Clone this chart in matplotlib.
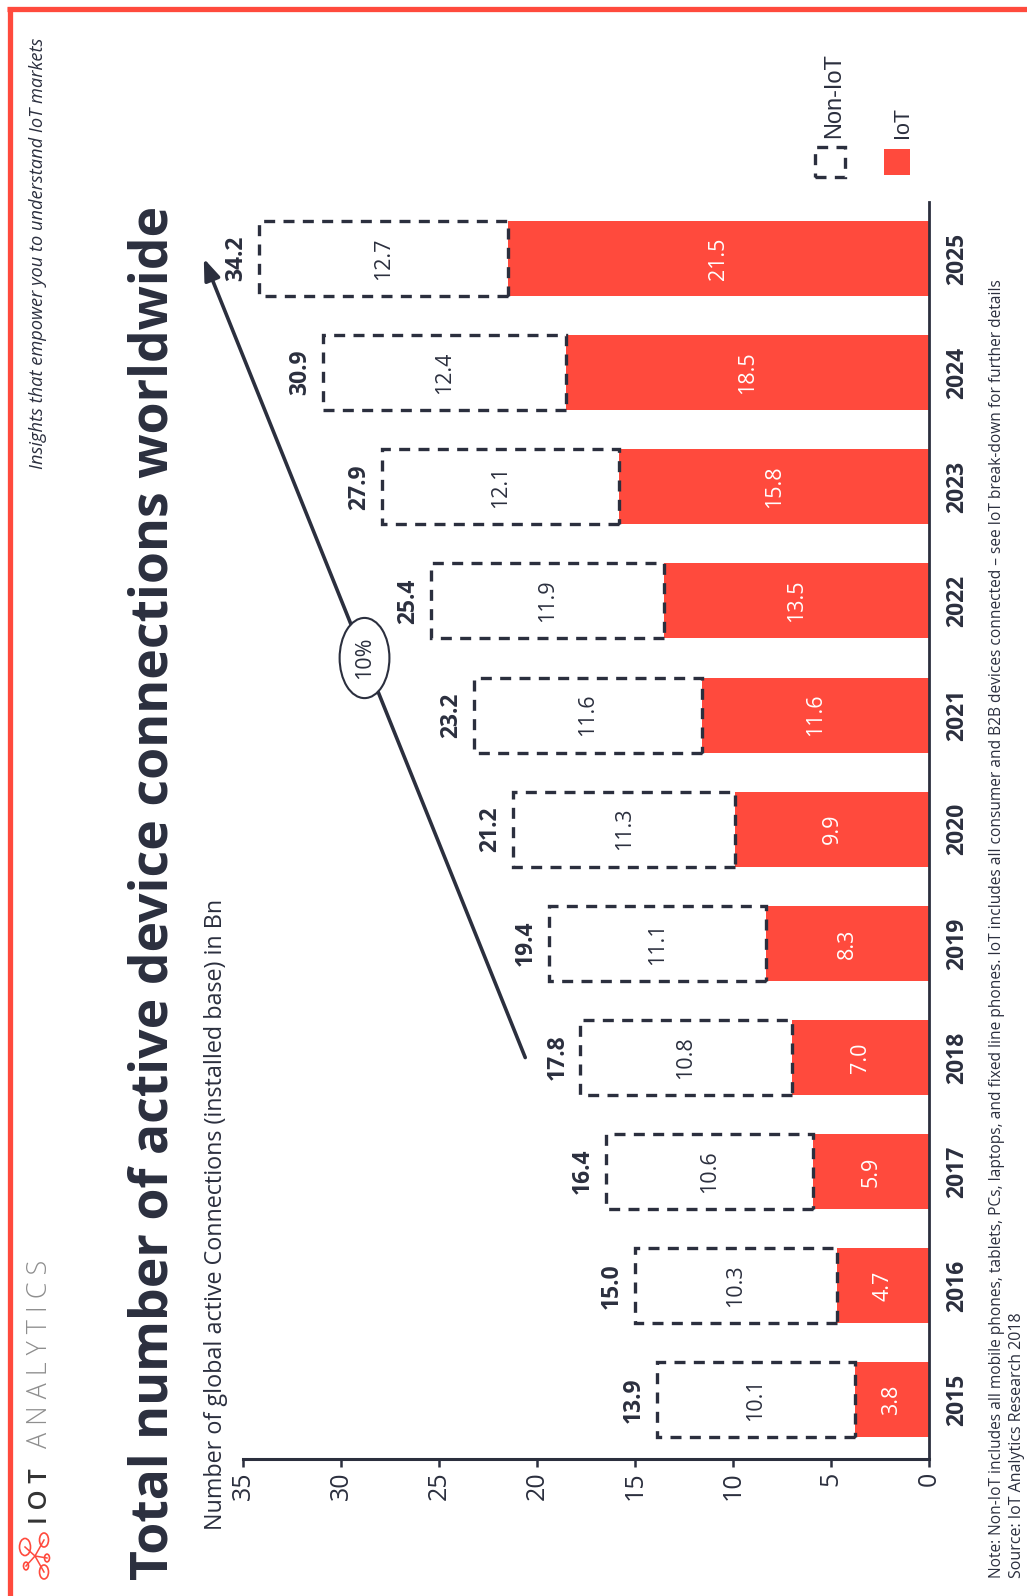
import numpy as np
import matplotlib
matplotlib.use("Agg")
import matplotlib.pyplot as plt
from matplotlib.patches import Rectangle, Circle
from matplotlib.lines import Line2D

# ---------------- data ----------------
years = ["2015", "2016", "2017", "2018", "2019", "2020", "2021", "2022", "2023", "2024", "2025"]
iot = [3.8, 4.7, 5.9, 7.0, 8.3, 9.9, 11.6, 13.5, 15.8, 18.5, 21.5]
non_iot = [10.1, 10.3, 10.6, 10.8, 11.1, 11.3, 11.6, 11.9, 12.1, 12.4, 12.7]
totals = [13.9, 15.0, 16.4, 17.8, 19.4, 21.2, 23.2, 25.4, 27.9, 30.9, 34.2]
x_ticks = [0, 5, 10, 15, 20, 25, 30, 35]
cagr_label = "10%"
legend_labels = ["Non-IoT", "IoT"]

title = "Total number of active device connections worldwide"
subtitle = "Number of global active Connections (installed base) in Bn"
tagline = "Insights that empower you to understand IoT markets"
note = ("Note: Non-IoT includes all mobile phones, tablets, PCs, laptops, and fixed line phones. "
        "IoT includes all consumer and B2B devices connected \u2013 see IoT break-down for further details")
source = "Source: IoT Analytics Research 2018"

# ---------------- style ----------------
W, H = 1027, 1596
RED = "#FF4A3D"
DARK = "#2B2F3E"
GREY = "#8E8E8E"
FONT = "Open Sans"
LFONT = "Liberation Sans"
DASH = (0, (3.3, 2.5))

fig = plt.figure(figsize=(W / 100, H / 100), dpi=100)
fig.patch.set_facecolor("white")


def fx(x):
    return x / W


def fy(y):
    return 1 - y / H


# ---------------- axes ----------------
ax = fig.add_axes([fx(243), fy(1459), (929 - 243) / W, (1459 - 202) / H])
idx = np.arange(len(years))
bar_h = 0.657
ax.barh(idx, iot, height=bar_h, color=RED, zorder=2)
ax.barh(idx, non_iot, left=iot, height=bar_h, fill=False, edgecolor=DARK,
        linewidth=2.4, linestyle=DASH, zorder=3)
ax.set_xlim(35, 0)
ax.set_ylim(-0.517, 10.495)
ax.set_xticks(x_ticks)
ax.set_xticklabels([str(t) for t in x_ticks], fontfamily=FONT, fontsize=18)
ax.tick_params(axis="x", labelrotation=90, length=6, width=1.8, color=DARK,
               labelcolor=DARK, pad=3)
ax.set_yticks([])
for s in ["top", "left"]:
    ax.spines[s].set_visible(False)
ax.spines["right"].set_linewidth(2.0)
ax.spines["right"].set_color(DARK)
ax.spines["bottom"].set_linewidth(2.2)
ax.spines["bottom"].set_color(DARK)
ax.spines["right"].set_zorder(4)

for i in idx:
    ax.text(iot[i] / 2, i, f"{iot[i]:.1f}", rotation=90, ha="center", va="center",
            color="white", fontsize=15.5, family=FONT, zorder=5)
    ax.text(iot[i] + non_iot[i] / 2, i, f"{non_iot[i]:.1f}", rotation=90, ha="center",
            va="center", color=DARK, fontsize=15.5, family=FONT, zorder=5)
    ax.annotate(f"{totals[i]:.1f}", (iot[i] + non_iot[i], i), xytext=(-16.5, 0),
                textcoords="offset points", rotation=90, ha="center", va="center",
                fontsize=16.5, fontweight="bold", family=FONT, color=DARK)
    ax.annotate(years[i], (0, i), xytext=(20, 0), textcoords="offset points",
                rotation=90, ha="center", va="center", fontsize=16.5,
                fontweight="bold", family=FONT, color=DARK, annotation_clip=False)

# growth arrow
ax.annotate("", xy=(37.0, 10.0), xytext=(20.6, 3.0),
            arrowprops=dict(arrowstyle="-|>,head_length=0.8,head_width=0.3",
                            color=DARK, lw=2.6, shrinkA=0, shrinkB=0, mutation_scale=16),
            annotation_clip=False, zorder=4)
ax.text(28.8, 6.5, cagr_label, rotation=90, ha="center", va="center", fontsize=15.5,
        family=FONT, color=DARK, zorder=6,
        bbox=dict(boxstyle="ellipse,pad=0.33", fc="white", ec=DARK, lw=1.5))

# ---------------- figure texts ----------------
renderer = fig.canvas.get_renderer()


def rtext(x, y, s, length, ha="left", **kw):
    t = fig.text(fx(x), fy(y), s, rotation=90, rotation_mode="anchor", ha=ha,
                 va="baseline", **kw)
    for _ in range(3):
        bb = t.get_window_extent(renderer)
        t.set_fontsize(t.get_fontsize() * length / bb.height)
    return t


rtext(167, 1580, title, 1375, fontsize=40, fontweight="bold", family=FONT, color=DARK)
rtext(222, 1530, subtitle, 629, fontsize=16, family=FONT, color=DARK)
rtext(43, 38, tagline, 432, ha="right", fontsize=12, style="italic", family=FONT, color=DARK)
rtext(47, 1524, "I O T", 56, fontsize=15, fontweight="semibold", family=FONT, color="#333333")
rtext(47, 1448, "A N A L Y T I C S", 188, fontsize=15, fontweight="light", family=FONT, color=GREY)
rtext(1001, 1578, note, 1301, fontsize=10, family=FONT, color=DARK)
rtext(1021, 1578, source, 265, fontsize=10, family=FONT, color=DARK)

# legend
fig.add_artist(Rectangle((fx(815), fy(177)), 30 / W, 30 / H, transform=fig.transFigure,
                         fill=False, ec=DARK, lw=2.4, ls=DASH))
fig.add_artist(Rectangle((fx(884), fy(175)), 26 / W, 26 / H, transform=fig.transFigure,
                         fc=RED, ec="none"))
rtext(840, 138, legend_labels[0], 85, fontsize=16, family=LFONT, color=DARK)
rtext(908, 138, legend_labels[1], 31, fontsize=16, family=LFONT, color=DARK)

# red frame
fig.add_artist(Line2D([fx(7), fx(1027)], [fy(8.5), fy(8.5)], transform=fig.transFigure,
                      color=RED, lw=3.8, solid_capstyle="butt"))
fig.add_artist(Line2D([fx(9.5), fx(9.5)], [fy(6.5), fy(1596)], transform=fig.transFigure,
                      color=RED, lw=3.8, solid_capstyle="butt"))

# logo icon (small network)
hub = (35, 1556)
nodes = [((25, 1547), 5.5), ((44, 1540), 4.5), ((47, 1558), 2.5), ((44, 1572), 4.5), ((26, 1566), 2.5)]
for (nx_, ny_), r in nodes:
    fig.add_artist(Line2D([fx(hub[0]), fx(nx_)], [fy(hub[1]), fy(ny_)],
                          transform=fig.transFigure, color=RED, lw=1.1))
for (nx_, ny_), r in nodes:
    fig.add_artist(Circle((fx(nx_), fy(ny_)), r / W, transform=fig.transFigure,
                          fc="white", ec=RED, lw=1.2))

fig.savefig("out.png", dpi=100, facecolor="white")
